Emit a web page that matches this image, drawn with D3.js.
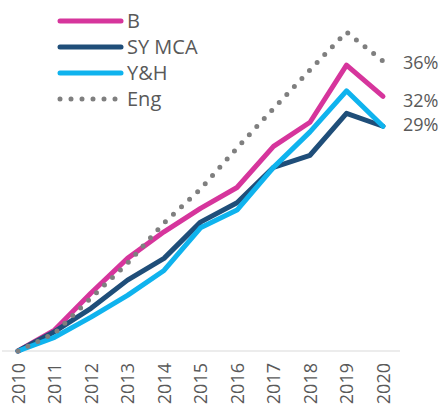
<!DOCTYPE html>
<html>
<head>
<meta charset="utf-8">
<script src="https://cdn.jsdelivr.net/npm/d3@7"></script>
<style>
  body { margin: 0; background: #fff; }
  svg { display: block; font-family: "Open Sans", sans-serif; }
</style>
</head>
<body>
<div id="chart"></div>
<script>
// growth since 2010, percent
var years = ["2010", "2011", "2012", "2013", "2014", "2015", "2016", "2017", "2018", "2019", "2020"];
var seriesNames = ["B", "SY MCA", "Y&H", "Eng"];
var bValues = [0, 2.6, 7.2, 11.5, 14.8, 17.7, 20.3, 25.4, 28.4, 35.5, 31.6];
var syValues = [0, 2.4, 5.3, 8.8, 11.5, 16.0, 18.4, 22.8, 24.3, 29.5, 27.9];
var yhValues = [0, 1.7, 4.2, 6.9, 10.0, 15.3, 17.5, 22.8, 27.2, 32.3, 27.9];
var engValues = [0, 2.2, 6.6, 10.9, 15.9, 20.1, 25.2, 30.1, 34.9, 39.6, 36.0];
var endLabels = ["36%", "32%", "29%"];

var width = 442, height = 405;

var series = [
  { name: seriesNames[0], values: bValues, color: "#d6359c", dotted: false },
  { name: seriesNames[1], values: syValues, color: "#1f4e79", dotted: false },
  { name: seriesNames[2], values: yhValues, color: "#0fb3ee", dotted: false },
  { name: seriesNames[3], values: engValues, color: "#7f7f7f", dotted: true }
];

var svg = d3.select("#chart").append("svg")
    .attr("width", width)
    .attr("height", height);

var x = d3.scalePoint().domain(years).range([18, 383]);
var y = d3.scaleLinear().domain([0, 40]).range([351, 28.8]);

// baseline
svg.append("line")
    .attr("x1", 2).attr("x2", 400)
    .attr("y1", y(0)).attr("y2", y(0))
    .attr("stroke", "#d9d9d9")
    .attr("stroke-width", 1);

// year labels, rotated
svg.selectAll("text.year")
    .data(years)
  .enter().append("text")
    .attr("class", "year")
    .attr("transform", function(d) { return "translate(" + (x(d) + 6.5) + ",363) rotate(-90)"; })
    .attr("text-anchor", "end")
    .attr("font-size", 18)
    .attr("fill", "#595959")
    .text(function(d) { return d; });

var line = d3.line()
    .x(function(d, i) { return x(years[i]); })
    .y(function(d) { return y(d); });

svg.selectAll("path.series")
    .data(series)
  .enter().append("path")
    .attr("class", "series")
    .attr("d", function(d) { return line(d.values); })
    .attr("fill", "none")
    .attr("stroke", function(d) { return d.color; })
    .attr("stroke-width", 5)
    .attr("stroke-linejoin", "round")
    .attr("stroke-linecap", "round")
    .attr("stroke-dasharray", function(d) { return d.dotted ? "0 11" : null; });

// end labels: Eng, B, then SY MCA / Y&H share one
var labelPos = [
  { text: endLabels[0], v: engValues[10], dy: 2 },
  { text: endLabels[1], v: bValues[10], dy: 4 },
  { text: endLabels[2], v: yhValues[10], dy: -2 }
];
svg.selectAll("text.end")
    .data(labelPos)
  .enter().append("text")
    .attr("class", "end")
    .attr("x", 403)
    .attr("y", function(d) { return y(d.v) + d.dy; })
    .attr("dy", "0.35em")
    .attr("font-size", 18)
    .attr("fill", "#595959")
    .text(function(d) { return d.text; });

// legend
var legend = svg.selectAll("g.legend")
    .data(series)
  .enter().append("g")
    .attr("class", "legend")
    .attr("transform", function(d, i) { return "translate(0," + (21 + i * 26) + ")"; });

legend.append("line")
    .attr("x1", 60).attr("x2", 121)
    .attr("stroke", function(d) { return d.color; })
    .attr("stroke-width", 5)
    .attr("stroke-linecap", "round")
    .attr("stroke-dasharray", function(d) { return d.dotted ? "0 11" : null; });

legend.append("text")
    .attr("x", 127)
    .attr("dy", "0.36em")
    .attr("font-size", 20)
    .attr("fill", "#595959")
    .text(function(d) { return d.name; });
</script>
</body>
</html>
